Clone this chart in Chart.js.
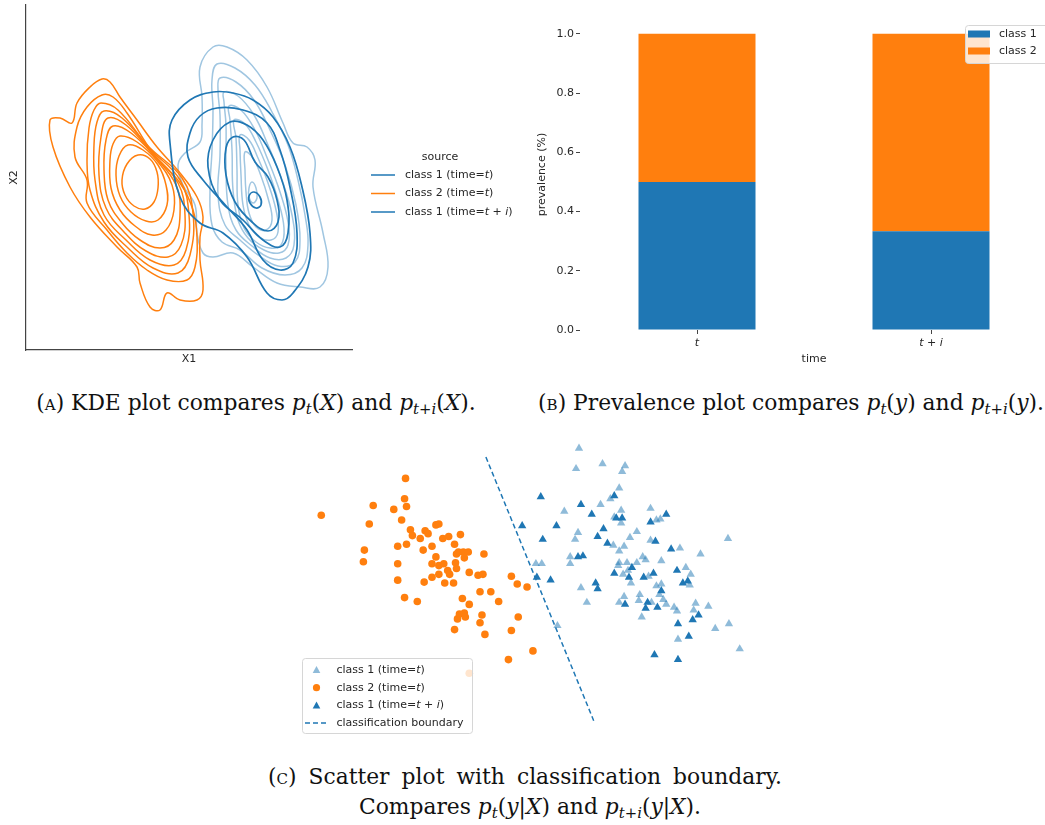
<!DOCTYPE html>
<html>
<head>
<meta charset="utf-8">
<script src="https://cdn.jsdelivr.net/npm/chart.js"></script>
<style>
  html, body { margin: 0; padding: 0; background: #fff; overflow: hidden; width: 1045px; height: 825px; }
  canvas { position: absolute; }
  .cap { position: absolute; font-family: "DejaVu Serif", serif; font-size: 21.8px; line-height: 26px; color: #111; white-space: nowrap; }
  .mid { transform: translateX(-50%); }
  .cap sub { font-size: 0.68em; line-height: 0; vertical-align: -0.28em; }
  .sc { font-variant: small-caps; }
</style>
</head>
<body>
<canvas id="kde" width="525" height="370" style="left:0;top:0"></canvas>
<canvas id="prev" width="530" height="370" style="left:520px;top:0"></canvas>
<canvas id="scat" width="480" height="310" style="left:290px;top:430px"></canvas>

<div class="cap mid" style="left:256px;top:390px">(<span class="sc">a</span>) KDE plot compares <i>p</i><sub><i>t</i></sub>(<i>X</i>) and <i>p</i><sub><i>t</i>+<i>i</i></sub>(<i>X</i>).</div>
<div class="cap mid" style="left:791px;top:390px">(<span class="sc">b</span>) Prevalence plot compares <i>p</i><sub><i>t</i></sub>(<i>y</i>) and <i>p</i><sub><i>t</i>+<i>i</i></sub>(<i>y</i>).</div>
<div class="cap" style="left:268px;top:764px;width:514px;text-align:justify;text-align-last:justify">(<span class="sc">c</span>) Scatter plot with classification boundary.</div>
<div class="cap mid" style="left:530px;top:794px">Compares <i>p</i><sub><i>t</i></sub>(<i>y</i>|<i>X</i>) and <i>p</i><sub><i>t</i>+<i>i</i></sub>(<i>y</i>|<i>X</i>).</div>

<script>
// ---------------- data ----------------
var sourceLabels = ['class 1 (time=t)', 'class 2 (time=t)', 'class 1 (time=t+i)'];

// KDE contour levels, outer level first, [X1, X2] pairs
var kdeClass1T = [
  [[187,303],[201,303],[221,290],[241,263],[257,227],[267,207],[281,203],[289,190],[287,163],[297,117],[302,83],[294,63],[274,63],[251,67],[227,83],[207,97],[187,93],[177,97],[171,117],[169,145],[157,165],[152,185],[159,197],[174,208],[176,225],[176,253],[174,283]],
  [[191,286],[209,282],[229,265],[246,238],[262,205],[272,170],[279,135],[282,105],[276,82],[259,75],[236,82],[214,100],[196,108],[186,125],[184,160],[186,200],[187,240],[186,270]],
  [[194,272],[210,268],[228,250],[244,220],[259,185],[270,145],[274,110],[269,88],[252,84],[232,95],[214,110],[199,125],[192,155],[194,195],[194,235],[192,260]],
  [[198,258],[212,254],[228,235],[242,205],[256,170],[266,135],[268,105],[260,92],[244,92],[226,104],[210,120],[202,145],[200,185],[200,225],[198,248]],
  [[203,244],[215,240],[229,220],[242,190],[254,158],[262,128],[262,105],[253,97],[238,100],[222,112],[212,130],[207,160],[206,200],[204,230]],
  [[208,230],[219,226],[230,208],[242,180],[252,150],[258,122],[255,105],[244,102],[230,108],[218,122],[212,145],[211,180],[210,212]],
  [[214,215],[223,210],[232,192],[242,167],[250,140],[252,118],[245,110],[233,113],[223,125],[217,145],[215,175],[214,200]],
  [[219,198],[227,192],[235,174],[242,152],[246,130],[240,120],[230,123],[223,137],[220,158],[219,180]],
  [[226,168],[230,162],[231,152],[227,147],[223,153],[223,162]]
];
var kdeClass2T = [
  [[76,271],[84,268],[94,253],[111,230],[131,203],[154,177],[171,153],[177,133],[174,113],[174,90],[177,60],[171,50],[154,50],[141,57],[134,40],[124,43],[114,67],[111,83],[91,103],[64,133],[44,163],[27,203],[24,230],[34,232],[46,227],[51,247],[64,263]],
  [[76,255],[87,253],[101,237],[127,197],[154,167],[167,140],[171,113],[169,83],[161,70],[141,70],[121,80],[101,97],[81,120],[61,147],[61,170],[49,193],[51,223],[61,243]],
  [[75,247],[92,240],[122,204],[156,172],[167,137],[164,95],[152,77],[127,82],[102,102],[78,128],[64,160],[61,190],[63,222],[68,240]],
  [[78,239],[96,232],[124,201],[154,170],[163,135],[160,100],[148,85],[124,90],[100,110],[78,135],[69,170],[68,205],[71,228]],
  [[82,232],[100,225],[126,197],[152,167],[159,135],[155,105],[142,93],[120,99],[98,118],[80,142],[73,175],[75,213]],
  [[87,224],[105,217],[129,193],[150,165],[154,135],[148,110],[134,102],[114,110],[96,127],[82,150],[78,180],[80,210]],
  [[94,214],[111,208],[132,188],[146,165],[148,140],[140,120],[126,115],[109,124],[94,140],[85,162],[84,190],[87,206]],
  [[102,205],[117,200],[132,185],[140,165],[141,145],[132,130],[120,129],[105,138],[94,154],[90,175],[93,194]],
  [[112,195],[124,191],[131,178],[132,162],[128,148],[119,141],[108,144],[99,155],[96,170],[101,186]]
];
var kdeClass1Ti = [
  [[187,258],[207,257],[227,250],[247,233],[264,203],[276,163],[284,117],[282,83],[267,57],[256,50],[241,57],[221,93],[197,117],[174,127],[154,153],[144,207],[146,230],[164,250]],
  [[191,242],[217,240],[241,227],[254,200],[264,163],[271,117],[267,87],[254,80],[237,90],[221,120],[201,143],[177,170],[162,193],[164,217],[174,234]],
  [[204,228],[221,225],[237,210],[251,183],[261,150],[262,117],[254,103],[237,110],[217,130],[194,150],[182,183],[187,210]],
  [[207,213],[218,210],[229,188],[242,173],[251,150],[252,128],[242,119],[226,128],[209,148],[200,175],[200,202]],
  [[228,158],[234,153],[235,145],[230,142],[224,147],[223,154]]
];

var timeLabels = ['t', 't + i'];
var prevClass1 = [0.5, 0.333];
var prevClass2 = [0.5, 0.667];
var prevTicks = [0.0, 0.2, 0.4, 0.6, 0.8, 1.0];
var prevLabels = ['class 1', 'class 2'];

var scatClass1T = [[290,296],[287,275],[314,280],[337,278],[334,272],[331,255],[322,244],[312,238],[275,231],[333,232],[326,225],[333,219],[363,234],[369,222],[373,223],[289,209],[286,202],[349,210],[342,204],[363,201],[325,196],[336,195],[331,190],[393,193],[414,187],[442,203],[281,184],[281,177],[246,177],[252,177],[355,184],[358,181],[374,180],[331,178],[339,178],[349,178],[330,175],[335,166],[343,157],[340,170],[361,164],[399,173],[404,166],[403,155],[292,152],[298,137],[336,143],[331,137],[352,145],[351,139],[369,154],[374,156],[372,145],[376,140],[379,135],[387,132],[390,128],[409,136],[407,129],[422,133],[354,122],[268,113],[429,110],[443,115],[391,99],[454,89],[364,137]];
var scatClass2T = [[27,227],[80,237],[76,218],[101,233],[112,244],[113,265],[114,236],[109,222],[118,212],[120,206],[128,203],[133,211],[136,208],[144,217],[147,218],[151,203],[157,205],[169,207],[163,197],[140,195],[131,191],[114,197],[105,195],[71,191],[70,179],[105,177],[140,177],[144,184],[147,175],[152,177],[165,187],[167,189],[172,189],[177,189],[173,183],[193,187],[164,178],[165,172],[156,170],[158,166],[147,166],[140,163],[132,158],[153,157],[162,157],[178,168],[187,165],[192,166],[221,164],[227,156],[237,153],[105,160],[112,142],[125,138],[171,141],[178,135],[189,148],[200,148],[208,138],[166,120],[168,125],[173,126],[174,122],[191,124],[189,116],[228,122],[163,109],[194,104],[221,108],[243,87],[218,78],[178,64]];
var scatClass1Ti = [[251,246],[292,238],[326,247],[303,228],[328,224],[334,224],[363,220],[379,228],[232,216],[267,216],[315,213],[309,205],[253,202],[319,198],[368,200],[384,192],[289,184],[294,185],[344,173],[326,167],[341,163],[356,163],[366,167],[390,170],[396,157],[401,159],[247,163],[261,160],[307,157],[309,151],[374,149],[337,135],[360,137],[358,131],[370,132],[391,115],[406,119],[412,124],[402,102],[367,83],[391,78]];
var boundary = [[195,287],[305,15]];

// ---------------- styles / helpers ----------------
var BLUE = '#1f77b4';
var ORANGE = '#ff7f0e';
var LIGHT = 'rgb(160,198,225)';
var LIGHT_PT = 'rgba(31,119,180,0.5)';
var INK = '#262626';
var FONT = '"DejaVu Sans", sans-serif';

function pts(arr) {
  return arr.map(function (p) { return { x: p[0], y: p[1] }; });
}

// closed smooth contour: wrap one point on each side, hide the two wrap segments
function loop(c) {
  var n = c.length;
  return pts([c[n - 1]].concat(c, [c[0], c[1]]));
}

function contourSets(levels, color, width, order) {
  return levels.map(function (c) {
    var data = loop(c);
    var last = data.length - 1;
    return {
      data: data, showLine: true, pointRadius: 0, borderColor: color, borderWidth: width,
      tension: 0.4, order: order,
      segment: {
        borderColor: function (ctx) {
          return (ctx.p0DataIndex === 0 || ctx.p1DataIndex === last) ? 'rgba(0,0,0,0)' : undefined;
        }
      }
    };
  });
}

// label text with italic variables after "="
function drawRich(ctx, text, x, y) {
  var parts = [];
  var eq = text.indexOf('=');
  if (eq < 0) {
    parts.push([text, false]);
  } else {
    parts.push([text.slice(0, eq + 1), false]);
    text.slice(eq + 1, text.length - 1).split('+').forEach(function (v, k) {
      if (k) parts.push([' + ', false]);
      parts.push([v, true]);
    });
    parts.push([')', false]);
  }
  parts.forEach(function (p) {
    ctx.font = (p[1] ? 'italic ' : '') + '11px ' + FONT;
    ctx.fillText(p[0], x, y);
    x += ctx.measureText(p[0]).width;
  });
}

function drawSwatch(ctx, it, o, y) {
  ctx.fillStyle = it.color;
  ctx.strokeStyle = it.color;
  if (it.kind === 'line' || it.kind === 'dash') {
    ctx.lineWidth = 1.5;
    ctx.setLineDash(it.kind === 'dash' ? [5, 3] : []);
    ctx.beginPath();
    ctx.moveTo(o.sx, y);
    ctx.lineTo(o.sx + o.sw, y);
    ctx.stroke();
    ctx.setLineDash([]);
  } else if (it.kind === 'rect') {
    ctx.fillRect(o.sx, y - 3.5, o.sw, 7);
  } else if (it.kind === 'dot') {
    ctx.beginPath();
    ctx.arc(o.mx, y, 3.6, 0, Math.PI * 2);
    ctx.fill();
  } else if (it.kind === 'tri') {
    ctx.beginPath();
    ctx.moveTo(o.mx, y - 4);
    ctx.lineTo(o.mx + 3.8, y + 3);
    ctx.lineTo(o.mx - 3.8, y + 3);
    ctx.closePath();
    ctx.fill();
  }
}

var boxLegend = {
  id: 'boxLegend',
  afterDraw: function (chart, args, o) {
    if (!o.items) return;
    var ctx = chart.ctx;
    ctx.save();
    if (o.frame) {
      ctx.fillStyle = 'rgba(255,255,255,0.8)';
      ctx.strokeStyle = '#d6d6d6';
      ctx.lineWidth = 1;
      ctx.beginPath();
      ctx.roundRect(o.frame[0] + 0.5, o.frame[1] + 0.5, o.frame[2], o.frame[3], 3);
      ctx.fill();
      ctx.stroke();
    }
    ctx.textBaseline = 'middle';
    if (o.title) {
      ctx.fillStyle = INK;
      ctx.textAlign = 'center';
      ctx.font = '11px ' + FONT;
      ctx.fillText(o.title, o.titleX, o.titleY);
    }
    ctx.textAlign = 'left';
    o.items.forEach(function (it, k) {
      var y = o.y + k * o.rowH;
      drawSwatch(ctx, it, o, y);
      ctx.fillStyle = INK;
      drawRich(ctx, it.text, o.tx, y);
    });
    ctx.restore();
  }
};

var common = { responsive: false, animation: false, events: [] };

// ---------------- (A) KDE ----------------
new Chart(document.getElementById('kde'), {
  type: 'scatter',
  data: {
    datasets: contourSets(kdeClass1Ti, BLUE, 1.7, 0)
      .concat(contourSets(kdeClass2T, ORANGE, 1.5, 1))
      .concat(contourSets(kdeClass1T, LIGHT, 1.5, 2))
  },
  options: Object.assign({}, common, {
    layout: { padding: { top: 5, right: 173, left: 0, bottom: 0 } },
    plugins: {
      legend: { display: false },
      tooltip: { enabled: false },
      boxLegend: {
        title: 'source', titleX: 440, titleY: 157,
        sx: 371, sw: 24, tx: 405, y: 175, rowH: 18.5,
        items: [
          { text: sourceLabels[0], color: BLUE, kind: 'line' },
          { text: sourceLabels[1], color: ORANGE, kind: 'line' },
          { text: sourceLabels[2], color: BLUE, kind: 'line' }
        ]
      }
    },
    scales: {
      x: {
        min: 0, max: 326,
        ticks: { display: false }, grid: { display: false },
        border: { display: true, color: '#444', width: 1.2 },
        title: { display: true, text: 'X1', color: INK, font: { size: 11, family: FONT }, padding: { top: 0, bottom: 4 } },
        afterFit: function (s) { s.height = 20; }
      },
      y: {
        min: 0, max: 345,
        ticks: { display: false }, grid: { display: false },
        border: { display: true, color: '#444', width: 1.2 },
        title: { display: true, text: 'X2', color: INK, font: { size: 11, family: FONT }, padding: { top: 8, bottom: 0 } },
        afterFit: function (s) { s.width = 26; }
      }
    }
  }),
  plugins: [boxLegend]
});

// ---------------- (B) prevalence ----------------
new Chart(document.getElementById('prev'), {
  type: 'bar',
  data: {
    labels: timeLabels,
    datasets: [
      { label: prevLabels[0], data: prevClass1, backgroundColor: BLUE, barPercentage: 1, categoryPercentage: 0.5 },
      { label: prevLabels[1], data: prevClass2, backgroundColor: ORANGE, barPercentage: 1, categoryPercentage: 0.5 }
    ]
  },
  options: Object.assign({}, common, {
    layout: { padding: { top: 19, right: 2, left: 0, bottom: 0 } },
    plugins: {
      legend: { display: false },
      tooltip: { enabled: false },
      boxLegend: {
        frame: [445, 25, 84, 38],
        sx: 448, sw: 22, tx: 479, y: 34, rowH: 17,
        items: [
          { text: prevLabels[0], color: BLUE, kind: 'rect' },
          { text: prevLabels[1], color: ORANGE, kind: 'rect' }
        ]
      }
    },
    scales: {
      x: {
        stacked: true,
        grid: { display: true, offset: false, drawOnChartArea: false, drawTicks: true, tickLength: 4, color: '#444' },
        border: { display: false },
        ticks: { color: INK, padding: 3, font: { size: 11, style: 'italic', family: FONT } },
        title: { display: true, text: 'time', color: INK, font: { size: 11, family: FONT }, padding: { top: 0, bottom: 4 } },
        afterFit: function (s) { s.height = 40; }
      },
      y: {
        stacked: true, min: 0, max: 1.05,
        afterBuildTicks: function (ax) { ax.ticks = prevTicks.map(function (v) { return { value: v }; }); },
        grid: { display: true, drawOnChartArea: false, drawTicks: true, tickLength: 4, color: '#444' },
        border: { display: false },
        ticks: { color: INK, padding: 2, font: { size: 11, family: FONT }, callback: function (v) { return v.toFixed(1); } },
        title: { display: true, text: 'prevalence (%)', color: INK, font: { size: 11, family: FONT }, padding: { top: 16, bottom: 0 } },
        afterFit: function (s) { s.width = 60; }
      }
    }
  }),
  plugins: [boxLegend]
});

// ---------------- (C) scatter ----------------
new Chart(document.getElementById('scat'), {
  type: 'scatter',
  data: {
    datasets: [
      { data: pts(boundary), showLine: true, pointRadius: 0, borderColor: BLUE, borderWidth: 1.5, borderDash: [5, 3], order: 0 },
      { data: pts(scatClass1Ti), pointStyle: 'triangle', pointRadius: 4.8, backgroundColor: BLUE, borderWidth: 0, order: 1 },
      { data: pts(scatClass2T), pointStyle: 'circle', pointRadius: 3.8, backgroundColor: ORANGE, borderWidth: 0, order: 2 },
      { data: pts(scatClass1T), pointStyle: 'triangle', pointRadius: 4.8, backgroundColor: LIGHT_PT, borderWidth: 0, order: 3 }
    ]
  },
  options: Object.assign({}, common, {
    layout: { padding: 0 },
    plugins: {
      legend: { display: false },
      tooltip: { enabled: false },
      boxLegend: {
        frame: [12, 228, 170, 75],
        mx: 26.5, sx: 15, sw: 22, tx: 46.5, y: 240, rowH: 17.7,
        items: [
          { text: sourceLabels[0], color: LIGHT_PT, kind: 'tri' },
          { text: sourceLabels[1], color: ORANGE, kind: 'dot' },
          { text: sourceLabels[2], color: BLUE, kind: 'tri' },
          { text: 'classification boundary', color: BLUE, kind: 'dash' }
        ]
      }
    },
    scales: {
      x: { display: false, min: 0, max: 480 },
      y: { display: false, min: 0, max: 310 }
    }
  }),
  plugins: [boxLegend]
});
</script>
</body>
</html>
